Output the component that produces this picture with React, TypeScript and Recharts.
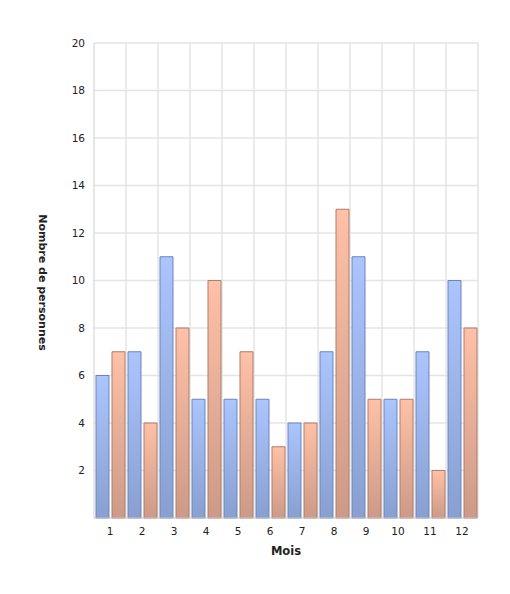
import { BarChart, Bar, XAxis, YAxis, CartesianGrid } from 'recharts';

const months = ['1', '2', '3', '4', '5', '6', '7', '8', '9', '10', '11', '12'];
const seriesA = [6, 7, 11, 5, 5, 5, 4, 7, 11, 5, 7, 10];
const seriesB = [7, 4, 8, 10, 7, 3, 4, 13, 5, 5, 2, 8];
const yTicks = [0, 2, 4, 6, 8, 10, 12, 14, 16, 18, 20];

const data = months.map((m, i) => ({ mois: m, a: seriesA[i], b: seriesB[i] }));

const FONT = '"DejaVu Sans", sans-serif';

const YLabel = (props: any) => {
    const { viewBox } = props;
    const x = viewBox.x + 42;
    const y = viewBox.y + viewBox.height / 2;
    return (
        <text
            x={x}
            y={y + 2}
            transform={`rotate(90, ${x}, ${y + 2})`}
            textAnchor="middle"
            dominantBaseline="central"
            fontFamily={FONT}
            fontSize={11}
            fontWeight="bold"
            fill="#222"
        >
            Nombre de personnes
        </text>
    );
};

export default function App() {
    return (
        <div style={{ position: 'absolute', left: 0, top: 0, width: 510, height: 594, background: '#fff' }}>
            <BarChart
                width={510}
                height={594}
                data={data}
                margin={{ top: 43, right: 32, left: 0, bottom: 0 }}
                barCategoryGap={2}
                barGap={3}
            >
                <defs>
                    <linearGradient id="gradA" x1="0" y1="0" x2="0" y2="1">
                        <stop offset="0%" stopColor="#abc5fd" />
                        <stop offset="100%" stopColor="#899fd1" />
                    </linearGradient>
                    <linearGradient id="gradB" x1="0" y1="0" x2="0" y2="1">
                        <stop offset="0%" stopColor="#ffc1a7" />
                        <stop offset="100%" stopColor="#cc9a87" />
                    </linearGradient>
                </defs>
                <CartesianGrid
                    stroke="#e4e4e4"
                    strokeWidth={1.5}
                    verticalCoordinatesGenerator={({ offset }: any) =>
                        months.map((_, i) => offset.left + ((i + 1) * offset.width) / months.length)
                    }
                />
                <XAxis
                    dataKey="mois"
                    height={76}
                    tickLine={false}
                    axisLine={{ stroke: '#d0d0d0' }}
                    tick={{ fontFamily: FONT, fontSize: 10.5, fill: '#222' }}
                    tickMargin={4}
                    label={{
                        value: 'Mois',
                        position: 'insideTop',
                        offset: 29,
                        style: { fontFamily: FONT, fontSize: 11.5, fontWeight: 'bold', fill: '#222' },
                    }}
                />
                <YAxis
                    width={94}
                    domain={[0, 20]}
                    ticks={yTicks}
                    interval={0}
                    tickLine={false}
                    axisLine={{ stroke: '#d0d0d0' }}
                    tick={{ fontFamily: FONT, fontSize: 10.5, fill: '#222' }}
                    tickMargin={3}
                    tickFormatter={(v: number) => (v === 0 ? '' : String(v))}
                    label={<YLabel />}
                />
                <Bar dataKey="a" fill="url(#gradA)" stroke="#6d84bd" strokeWidth={1} isAnimationActive={false} />
                <Bar dataKey="b" fill="url(#gradB)" stroke="#ad7d6d" strokeWidth={1} isAnimationActive={false} />
            </BarChart>
        </div>
    );
}
